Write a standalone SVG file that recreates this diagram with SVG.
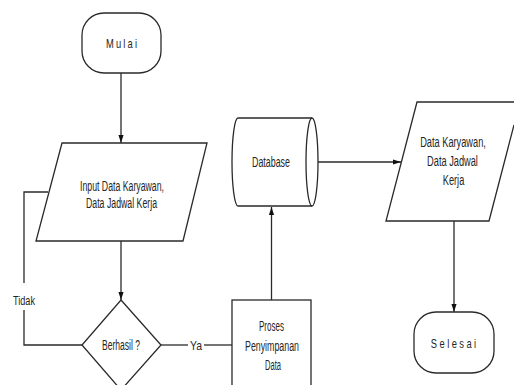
<svg xmlns="http://www.w3.org/2000/svg" width="514" height="385" viewBox="0 0 514 385">
<defs>
<style>
.s{fill:#fff;stroke:#2a2a2a;stroke-width:1.3}
.c{fill:none;stroke:#2a2a2a;stroke-width:1.3}
text{font-family:"Liberation Sans",Arial,sans-serif;font-size:14px;fill:#262626;text-anchor:middle}
.sp{font-size:13px}
</style>
<marker id="a" viewBox="0 0 10 10" refX="10" refY="5" markerWidth="8" markerHeight="8" markerUnits="userSpaceOnUse" orient="auto">
<path d="M0,1.8 L10,5 L0,8.2 Z" fill="#111"/>
</marker>
</defs>
<rect width="514" height="385" fill="#fff"/>
<g id="connectors">
<line class="c" x1="121" y1="73" x2="121" y2="143" marker-end="url(#a)"/>
<line class="c" x1="121" y1="241" x2="121" y2="300" marker-end="url(#a)"/>
<polyline class="c" points="48,192 24,192 24,283"/>
<polyline class="c" points="24,310 24,345 82,345"/>
<line class="c" x1="161" y1="345" x2="188" y2="345"/>
<line class="c" x1="204" y1="345" x2="232" y2="345"/>
<line class="c" x1="271.5" y1="300" x2="271.5" y2="207" marker-end="url(#a)"/>
<line class="c" x1="318" y1="162" x2="401" y2="162" marker-end="url(#a)"/>
<line class="c" x1="454" y1="221" x2="454" y2="312" marker-end="url(#a)"/>
<text x="24" y="304.5" style="font-size:13.5px" textLength="22" lengthAdjust="spacingAndGlyphs">Tidak</text>
<text x="196" y="350" style="font-size:13.5px" textLength="12" lengthAdjust="spacingAndGlyphs">Ya</text>
</g>
<g id="mulai">
<rect class="s" x="82" y="13" width="79" height="60" rx="22" ry="22"/>
<text class="sp" transform="translate(121.5,47.5) scale(0.72,1)" x="0" y="0" textLength="43" lengthAdjust="spacing">Mulai</text>
</g>
<g id="input">
<polygon class="s" points="62,143 207,143 183,241 36,241"/>
<text x="122" y="191" textLength="84" lengthAdjust="spacingAndGlyphs">Input Data Karyawan,</text>
<text x="121.5" y="207.5" textLength="71" lengthAdjust="spacingAndGlyphs">Data Jadwal Kerja</text>
</g>
<g id="berhasil">
<polygon class="s" points="121,300 161,345 121,390 82,345"/>
<text x="121" y="350" textLength="38" lengthAdjust="spacingAndGlyphs">Berhasil ?</text>
</g>
<g id="proses">
<rect class="s" x="232" y="300" width="79" height="95"/>
<text x="271.5" y="331" textLength="25" lengthAdjust="spacingAndGlyphs">Proses</text>
<text x="272" y="351" textLength="54" lengthAdjust="spacingAndGlyphs">Penyimpanan</text>
<text x="273" y="370" textLength="16" lengthAdjust="spacingAndGlyphs">Data</text>
</g>
<g id="database">
<path class="s" d="M238,118 L312,118 A6,44 0 0 1 312,206 L238,206 A6,44 0 0 1 238,118 Z"/>
<path class="c" d="M312,118 A6,44 0 0 0 312,206"/>
<text x="271" y="167" textLength="38" lengthAdjust="spacingAndGlyphs">Database</text>
</g>
<g id="output">
<polygon points="417,102 514,102 514,125 489,221 386,221" fill="#fff"/>
<path class="c" d="M514,102 L417,102 L386,221 L489,221 L514,125"/>
<text transform="translate(453,147) scale(0.66,1)" x="0" y="0">Data Karyawan,</text>
<text transform="translate(452.5,165.5) scale(0.66,1)" x="0" y="0">Data Jadwal</text>
<text transform="translate(453.5,184.5) scale(0.66,1)" x="0" y="0">Kerja</text>
</g>
<g id="selesai">
<rect class="s" x="414" y="312" width="80" height="61" rx="22" ry="22"/>
<text class="sp" transform="translate(453.5,347.5) scale(0.72,1)" x="0" y="0" textLength="63" lengthAdjust="spacing">Selesai</text>
</g>
</svg>
